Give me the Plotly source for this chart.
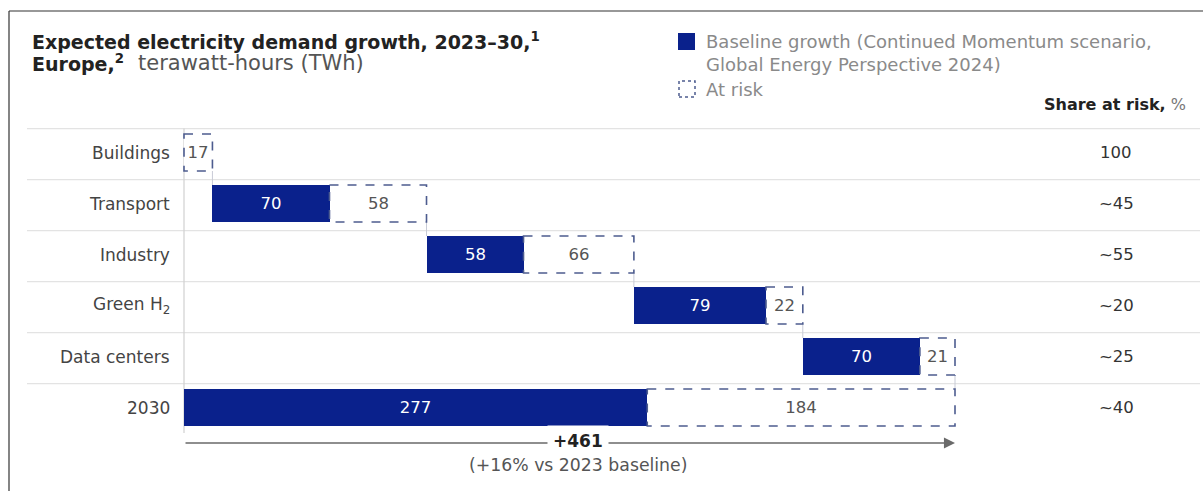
import plotly.graph_objects as go

categories = ["Buildings", "Transport", "Industry", "Green H<sub>2</sub>", "Data centers", "2030"]
baseline = [0, 70, 58, 79, 70, 277]
at_risk = [17, 58, 66, 22, 21, 184]
share_at_risk = ["100", "~45", "~55", "~20", "~25", "~40"]
total_label = "+461"
total_sub = "(+16% vs 2023 baseline)"

NAVY = "#0a218c"
DASH = "#4d5c8f"
GRID = "#e3e3e3"
TXT = "#444444"
WIDE = "DejaVu Sans, sans-serif"

W, H = 1203, 491
X0PX, XPX_PER = 184.0, (955.0 - 184.0) / 461.0
Y0PX, YPITCH = 152.5, 51.0
BARW = 37.0 / YPITCH

x_lo = -X0PX / XPX_PER
x_hi = (W - X0PX) / XPX_PER
y_top = -Y0PX / YPITCH
y_bot = (H - Y0PX) / YPITCH

n = len(categories)
starts = []
cum = 0
for i in range(n - 1):
    starts.append(cum)
    cum += baseline[i] + at_risk[i]
total = cum
starts.append(0)
rows = list(range(n))

fig = go.Figure()

fig.add_trace(go.Bar(
    y=rows, x=baseline, base=starts, orientation="h", width=BARW,
    marker=dict(color=NAVY, line=dict(width=0)),
    text=[str(v) if v else "" for v in baseline], textposition="inside",
    insidetextanchor="middle", textfont=dict(color="white", size=16.5, family=WIDE),
    hoverinfo="skip", showlegend=False,
))
risk_base = [s + b for s, b in zip(starts, baseline)]
fig.add_trace(go.Bar(
    y=rows, x=at_risk, base=risk_base, orientation="h", width=BARW,
    marker=dict(color="white", line=dict(width=0)),
    text=[str(v) for v in at_risk], textposition="inside",
    insidetextanchor="middle", textfont=dict(color="#555555", size=16.5, family=WIDE),
    constraintext="none",
    hoverinfo="skip", showlegend=False,
))

shapes = []
for i in range(n):
    yy = i - 0.47
    shapes.append(dict(type="line", xref="paper", yref="y", x0=27 / W, x1=1200 / W,
                       y0=yy, y1=yy, line=dict(color=GRID, width=1.2), layer="below"))
shapes.append(dict(type="line", xref="x", yref="y", x0=0, x1=0, y0=-0.47, y1=n - 1 + 0.5,
                   line=dict(color="#d0d0d0", width=1.2), layer="below"))
for i in range(n - 1):
    xe = risk_base[i] + at_risk[i]
    shapes.append(dict(type="line", xref="x", yref="y", x0=xe, x1=xe,
                       y0=i + BARW / 2, y1=i + 1 - BARW / 2,
                       line=dict(color="#c8cbd6", width=1), layer="below"))
for i in range(n):
    shapes.append(dict(type="rect", xref="x", yref="y",
                       x0=risk_base[i], x1=risk_base[i] + at_risk[i],
                       y0=i - BARW / 2, y1=i + BARW / 2,
                       line=dict(color=DASH, width=1.6, dash="dash")))
shapes.append(dict(type="line", xref="paper", yref="paper", x0=9 / W, x1=9 / W,
                   y0=0, y1=1 - 11 / H, line=dict(color="#333333", width=1.2)))
shapes.append(dict(type="line", xref="paper", yref="paper", x0=9 / W, x1=1,
                   y0=1 - 11 / H, y1=1 - 11 / H, line=dict(color="#333333", width=1.2)))
shapes.append(dict(type="rect", xref="paper", yref="paper", x0=678 / W, x1=695 / W,
                   y0=1 - 50 / H, y1=1 - 33 / H, fillcolor=NAVY, line=dict(width=0)))
shapes.append(dict(type="rect", xref="paper", yref="paper", x0=679 / W, x1=695 / W,
                   y0=1 - 97 / H, y1=1 - 81 / H, fillcolor="white",
                   line=dict(color=DASH, width=1.5, dash="dot")))

ann = []
ann.append(dict(xref="paper", yref="paper", x=30 / W, y=1 - 41 / H, xanchor="left", yanchor="middle",
                text="<b>Expected electricity demand growth, 2023–30,<sup>1</sup></b>",
                showarrow=False, font=dict(size=19, color="#222222", family=WIDE)))
ann.append(dict(xref="paper", yref="paper", x=30 / W, y=1 - 63 / H, xanchor="left", yanchor="middle",
                text="<b>Europe,<sup>2</sup></b>",
                showarrow=False, font=dict(size=19, color="#222222", family=WIDE)))
ann.append(dict(xref="paper", yref="paper", x=136 / W, y=1 - 63 / H, xanchor="left", yanchor="middle",
                text="terawatt-hours (TWh)",
                showarrow=False, font=dict(size=21, color="#555555", family=WIDE)))
ann.append(dict(xref="paper", yref="paper", x=704 / W, y=1 - 53 / H, xanchor="left", yanchor="middle",
                text="Baseline growth (Continued Momentum scenario,<br>Global Energy Perspective 2024)",
                align="left", showarrow=False, font=dict(size=18, color="#8a8a8a", family=WIDE)))
ann.append(dict(xref="paper", yref="paper", x=704 / W, y=1 - 89 / H, xanchor="left", yanchor="middle",
                text="At risk", showarrow=False, font=dict(size=18, color="#8a8a8a", family=WIDE)))
ann.append(dict(xref="paper", yref="paper", x=1188 / W, y=1 - 105 / H, xanchor="right", yanchor="middle",
                text="<b>Share at risk,</b> <span style='color:#777777'>%</span>", showarrow=False,
                font=dict(size=16, color="#222222", family=WIDE)))
for i, c in enumerate(categories):
    ann.append(dict(xref="paper", yref="y", x=172 / W, y=i, xanchor="right", yanchor="middle",
                    text=c, showarrow=False, font=dict(size=17, color=TXT, family=WIDE)))
    ann.append(dict(xref="paper", yref="y", x=1116 / W, y=i, xanchor="center", yanchor="middle",
                    text=share_at_risk[i], showarrow=False, font=dict(size=16.5, color="#333333", family=WIDE)))
ya = (443 - Y0PX) / YPITCH
ann.append(dict(xref="x", yref="y", axref="x", ayref="y", x=total, y=ya, ax=0, ay=ya,
                text="", showarrow=True, arrowhead=2, arrowsize=1.7, arrowwidth=1.3,
                arrowcolor="#6a6a6a"))
ann.append(dict(xref="x", yref="y", x=total / 2, y=(441 - Y0PX) / YPITCH, xanchor="center", yanchor="middle",
                xshift=8, text="<b>" + total_label + "</b>", showarrow=False, bgcolor="white", borderpad=5,
                font=dict(size=17, color="#222222", family=WIDE)))
ann.append(dict(xref="x", yref="y", x=total / 2, y=(465 - Y0PX) / YPITCH, xanchor="center", yanchor="middle",
                xshift=8, text=total_sub, showarrow=False, font=dict(size=17.3, color="#555555", family=WIDE)))

fig.update_layout(
    width=W, height=H, margin=dict(l=0, r=0, t=0, b=0),
    paper_bgcolor="white", plot_bgcolor="white",
    barmode="overlay", bargap=0,
    xaxis=dict(range=[x_lo, x_hi], visible=False, fixedrange=True),
    yaxis=dict(range=[y_bot, y_top], visible=False, fixedrange=True),
    shapes=shapes, annotations=ann, font=dict(family=WIDE),
)
fig.write_html("out.html")
